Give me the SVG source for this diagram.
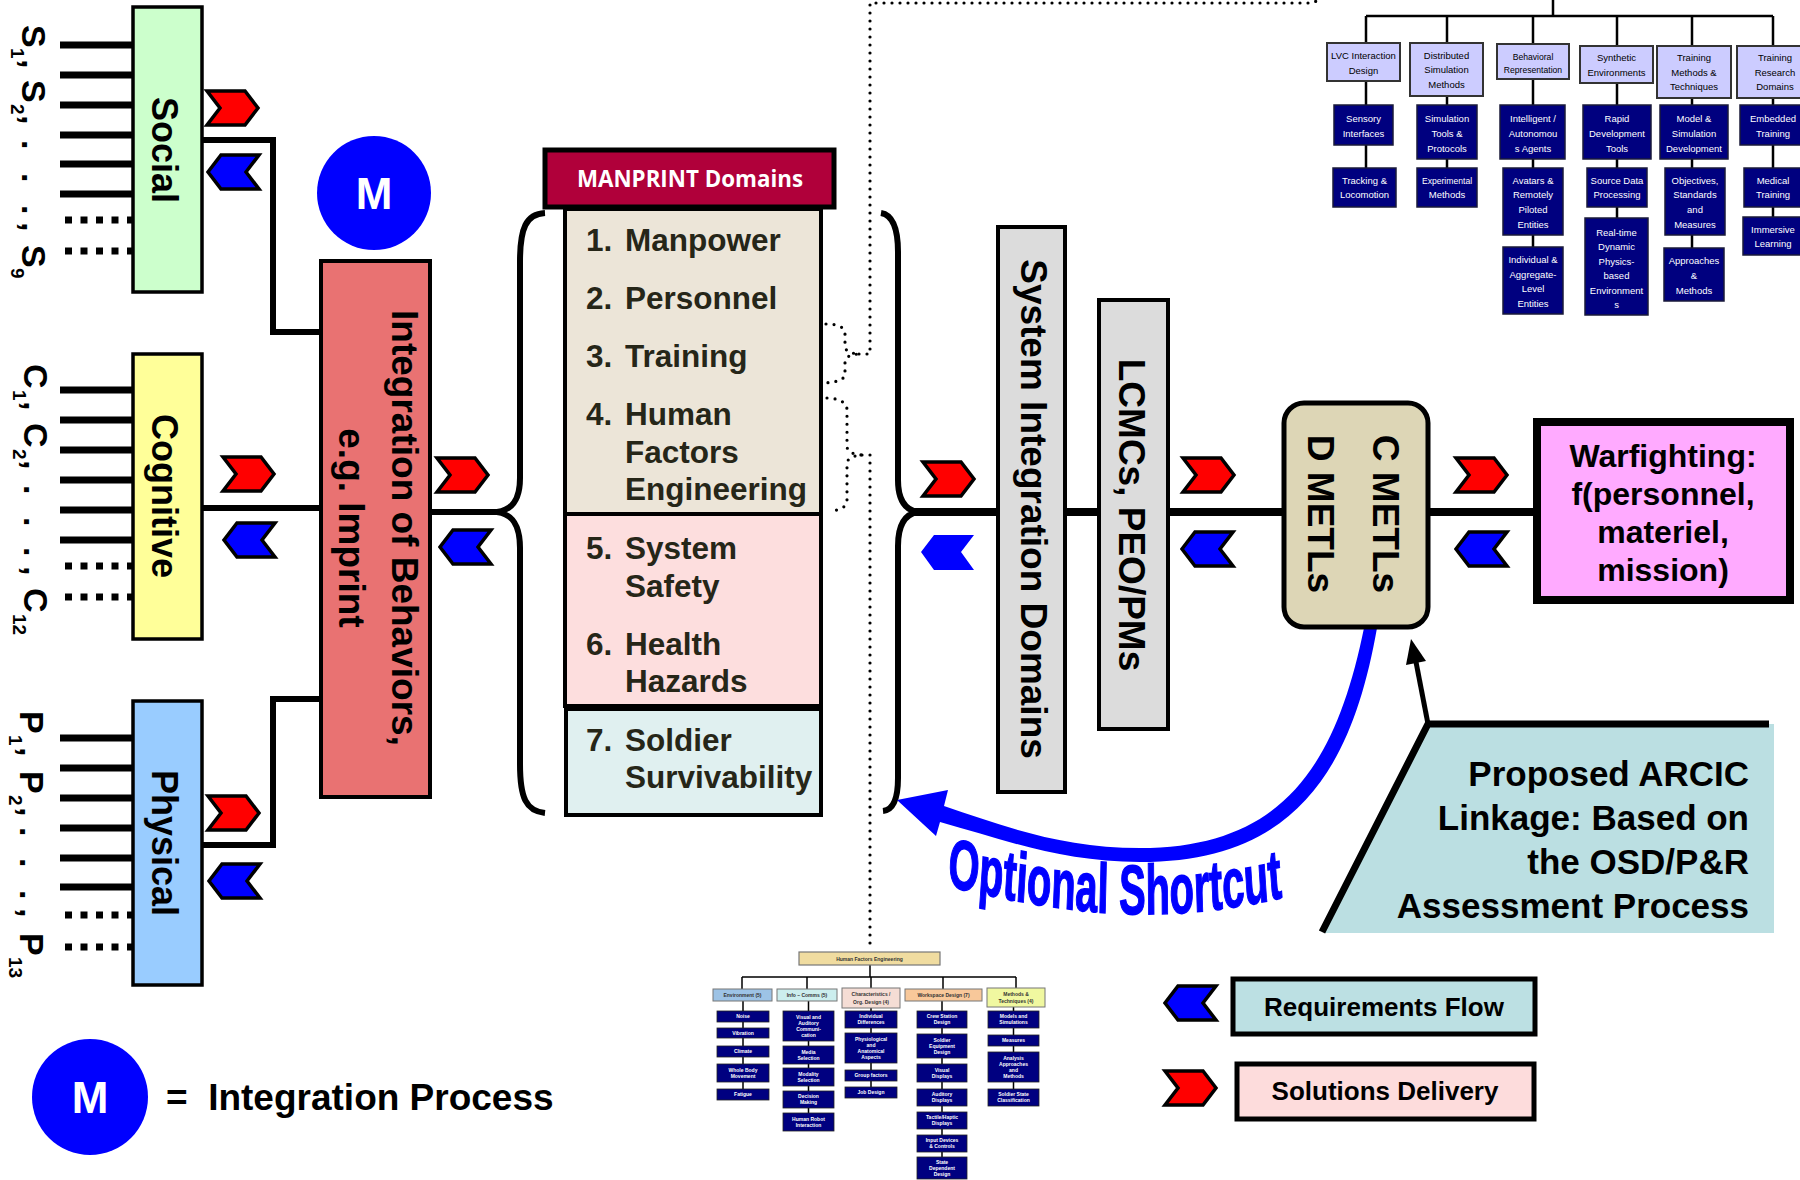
<svg xmlns="http://www.w3.org/2000/svg" width="1800" height="1180" viewBox="0 0 1800 1180">
<style>
.b{font-family:"Liberation Sans",Arial,sans-serif;font-weight:bold}
.ln{stroke:#000;fill:none}
.dot{stroke:#000;fill:none;stroke-width:3.2;stroke-linecap:round;stroke-dasharray:0 8}
.tc{font-family:"Liberation Sans Narrow","Liberation Sans",Arial,sans-serif;font-size:9.5px;text-anchor:middle}
.tw{fill:#fff}
.cat{fill:#CCCCFF;stroke:#333;stroke-width:2}
.nv{fill:#00007F;stroke:#1a1a3a;stroke-width:1.5}
.hf{font-family:"Liberation Sans",Arial,sans-serif;font-weight:bold;font-size:5px;text-anchor:middle}
.hn{fill:#000080;stroke:#222;stroke-width:0.8}
.dom{font-family:"Liberation Sans",Arial,sans-serif;font-weight:bold;font-size:31.5px;fill:#262618}
.rot{text-anchor:middle}
</style>
<defs>
<path id="cr" d="M0,0 H38 L51,17 L38,34 H0 L13,17 Z" fill="#FF0000" stroke="#000" stroke-width="3.5"/>
<path id="cb" d="M13,0 H51 L38,17 L51,34 H13 L0,17 Z" fill="#0000FF" stroke="#000" stroke-width="3.5"/>
<path id="osp" d="M 0 886 C 180 910, 360 930, 600 896"/>
</defs>

<!-- connectors -->
<g id="connectors">
<g class="ln" stroke-width="7">
<path d="M60 45 H133 M60 75 H133 M60 105 H133 M60 135 H133 M60 164 H133 M60 194 H133"/>
<path d="M60 390 H133 M60 420 H133 M60 450 H133 M60 480 H133 M60 510 H133 M60 540 H133"/>
<path d="M60 738 H133 M60 768 H133 M60 798 H133 M60 828 H133 M60 858 H133 M60 887 H133"/>
<path stroke-dasharray="7 8.5" d="M65 220 H133 M65 251 H133 M65 566 H133 M65 597 H133 M65 915 H133 M65 947 H133"/>
</g>
<g class="ln" stroke-width="6">
<path d="M202 140 H273 V332 H321"/>
<path d="M202 508 H321"/>
<path d="M202 845 H273 V699 H321"/>
<path d="M430 512 H500"/>
<path d="M545 213 C526 214, 520 228, 520 262 L520 478 C520 500, 512 510, 497 512 C512 514, 520 524, 520 548 L520 764 C520 798, 526 811, 545 813"/>
<path d="M881 213 C893 215, 898 228, 898 252 L898 480 C898 500, 905 510, 918 512 C905 514, 898 524, 898 546 L898 778 C898 800, 893 810, 883 811"/>
</g>
<path class="ln" stroke-width="8" d="M912 512 H1533"/>
<path class="dot" d="M826 324 Q845 324, 845 334 L845 346 Q845 353, 859 354 Q845 355, 845 362 L845 374 Q845 382, 823 383"/>
<path class="dot" d="M827 398 Q847 399, 847 410 L847 446 Q847 454, 862 455 Q847 456, 847 464 L847 500 Q847 510, 829 511"/>
<path class="dot" d="M859 354 L870 354 L870 3 L1312 3 L1326 -3"/>
<path class="dot" d="M862 455 L870 455 L870 946"/>
<path d="M1377 628 C1352 770, 1295 862, 1140 862 C1062 862, 1005 840, 940 822 L936 836 L897 800 L948 790 L944 806 C1003 826, 1062 848, 1140 848 C1283 848, 1336 765, 1364 628 Z" fill="#0000FF"/>
<path class="ln" stroke-width="5" d="M1428 724 L1416 662"/>
<polygon points="1411,639 1426,661 1406,665" fill="#000"/>
<g class="ln" stroke-width="2.5">
<path d="M1553 0 V16 M1366 16 H1773"/>
<path d="M1366 16 V168 M1447 16 V168 M1533 16 V247 M1617 16 V218 M1692 16 V248 M1773 16 V217"/>
</g>
<g class="ln" stroke="#222" stroke-width="1.5">
<path d="M870 965 V977 M742 977 H1016 M742 977 V989 M807 977 V989 M871 977 V988 M943 977 V989 M1016 977 V988"/>
<path d="M743 1001 V1094 M808.5 1001 V1122 M871 1008 V1092 M942 1001 V1168 M1013.5 1007 V1097"/>
</g>
</g>

<!-- chevrons -->
<g id="chevrons">
<use href="#cr" x="207" y="91"/><use href="#cb" x="208" y="155"/>
<use href="#cr" x="223" y="457"/><use href="#cb" x="224" y="523"/>
<use href="#cr" x="208" y="796"/><use href="#cb" x="209" y="864"/>
<use href="#cr" x="437" y="458"/><use href="#cb" x="440" y="530"/>
<use href="#cr" x="923" y="462"/>
<path d="M934,535 H974 L961,552 L974,570 H934 L921,552 Z" fill="#0000FF"/>
<use href="#cr" x="1183" y="458"/><use href="#cb" x="1182" y="532"/>
<use href="#cr" x="1456" y="458"/><use href="#cb" x="1456" y="532"/>
<use href="#cb" x="1165" y="986"/><use href="#cr" x="1165" y="1071"/>
</g>

<!-- left labels -->
<g id="s-label" class="b" font-size="34" transform="translate(22,0) rotate(90)">
<text><tspan x="25" y="0">S</tspan><tspan x="48" y="11" font-size="19">1</tspan><tspan x="59" y="0">,</tspan><tspan x="80" y="0">S</tspan><tspan x="104" y="11" font-size="19">2</tspan><tspan x="115" y="0">,</tspan><tspan x="140" y="0">.</tspan><tspan x="173" y="0">.</tspan><tspan x="205" y="0">.</tspan><tspan x="222" y="0">,</tspan><tspan x="245" y="0">S</tspan><tspan x="268" y="11" font-size="19">9</tspan></text>
</g>
<g id="c-label" class="b" font-size="34" transform="translate(24,0) rotate(90)">
<text><tspan x="364" y="0">C</tspan><tspan x="390" y="11" font-size="19">1</tspan><tspan x="401" y="0">,</tspan><tspan x="423" y="0">C</tspan><tspan x="449" y="11" font-size="19">2</tspan><tspan x="460" y="0">,</tspan><tspan x="485" y="0">.</tspan><tspan x="517" y="0">.</tspan><tspan x="547" y="0">.</tspan><tspan x="566" y="0">,</tspan><tspan x="588" y="0">C</tspan><tspan x="614" y="11" font-size="19">12</tspan></text>
</g>
<g id="p-label" class="b" font-size="34" transform="translate(20,0) rotate(90)">
<text><tspan x="711" y="0">P</tspan><tspan x="735" y="11" font-size="19">1</tspan><tspan x="747" y="0">,</tspan><tspan x="771" y="0">P</tspan><tspan x="795" y="11" font-size="19">2</tspan><tspan x="807" y="0">,</tspan><tspan x="827" y="0">.</tspan><tspan x="858" y="0">.</tspan><tspan x="890" y="0">.</tspan><tspan x="908" y="0">,</tspan><tspan x="933" y="0">P</tspan><tspan x="957" y="11" font-size="19">13</tspan></text>
</g>

<g id="social">
<rect x="133" y="7" width="69" height="285" fill="#CCFFCC" stroke="#000" stroke-width="3.5"/>
<text class="b rot" font-size="36" transform="translate(152,150) rotate(90)">Social</text>
</g>
<g id="cognitive">
<rect x="133" y="354" width="69" height="285" fill="#FFFF99" stroke="#000" stroke-width="3.5"/>
<text class="b rot" font-size="36" transform="translate(152,496) rotate(90)">Cognitive</text>
</g>
<g id="physical">
<rect x="133" y="701" width="69" height="284" fill="#99CCFF" stroke="#000" stroke-width="3.5"/>
<text class="b rot" font-size="36" transform="translate(152,843) rotate(90)">Physical</text>
</g>

<g id="m-circle">
<circle cx="374" cy="193" r="57" fill="#0000FF"/>
<text class="b" x="374" y="209" font-size="44" fill="#fff" text-anchor="middle">M</text>
</g>

<g id="integration">
<rect x="321" y="261" width="109" height="536" fill="#E97272" stroke="#000" stroke-width="4"/>
<text class="b rot" font-size="37" transform="translate(392,528) rotate(90)">Integration of Behaviors,</text>
<text class="b rot" font-size="37" transform="translate(339,528) rotate(90)">e.g. Imprint</text>
</g>

<g id="manprint">
<rect x="545" y="150" width="289" height="57" fill="#B0003A" stroke="#000" stroke-width="5"/>
<text x="690" y="187" font-family="'Open Sans','Liberation Sans',sans-serif" font-weight="bold" font-size="23" fill="#fff" text-anchor="middle" textLength="226" lengthAdjust="spacingAndGlyphs">MANPRINT Domains</text>
</g>

<g id="domains">
<rect x="565" y="209" width="256" height="305" fill="#ECE5D8" stroke="#000" stroke-width="4"/>
<rect x="565" y="514" width="256" height="192" fill="#FDDEDE" stroke="#000" stroke-width="4"/>
<rect x="566" y="709" width="255" height="106" fill="#E0F0F0" stroke="#000" stroke-width="4"/>
<g class="dom">
<text x="586" y="251">1.</text><text x="625" y="251">Manpower</text>
<text x="586" y="309">2.</text><text x="625" y="309">Personnel</text>
<text x="586" y="367">3.</text><text x="625" y="367">Training</text>
<text x="586" y="425">4.</text><text x="625" y="425">Human</text>
<text x="625" y="463">Factors</text>
<text x="625" y="500">Engineering</text>
<text x="586" y="559">5.</text><text x="625" y="559">System</text>
<text x="625" y="597">Safety</text>
<text x="586" y="655">6.</text><text x="625" y="655">Health</text>
<text x="625" y="692">Hazards</text>
<text x="586" y="751">7.</text><text x="625" y="751">Soldier</text>
<text x="625" y="788">Survivability</text>
</g>
</g>

<g id="system-integration">
<rect x="998" y="227" width="67" height="565" fill="#DCDCDC" stroke="#000" stroke-width="4"/>
<text class="b rot" font-size="37" transform="translate(1021,509) rotate(90)">System Integration Domains</text>
</g>
<g id="lcmc">
<rect x="1099" y="300" width="69" height="429" fill="#DCDCDC" stroke="#000" stroke-width="4"/>
<text class="b rot" font-size="37" transform="translate(1119,515) rotate(90)">LCMCs, PEO/PMs</text>
</g>
<g id="metls">
<rect x="1284" y="403" width="144" height="224" rx="20" fill="#DDD6B6" stroke="#000" stroke-width="5"/>
<text class="b rot" font-size="37" transform="translate(1373,514) rotate(90)">C METLs</text>
<text class="b rot" font-size="37" transform="translate(1308,514) rotate(90)">D METLs</text>
</g>
<g id="warfighting">
<rect x="1537" y="422" width="253" height="178" fill="#FFAAFF" stroke="#000" stroke-width="8"/>
<g class="b" font-size="32" text-anchor="middle">
<text x="1663" y="467">Warfighting:</text>
<text x="1663" y="505">f(personnel,</text>
<text x="1663" y="543">materiel,</text>
<text x="1663" y="581">mission)</text>
</g>
</g>

<g id="optional-shortcut">
<g transform="translate(947,0) scale(0.57,1)">
<text class="b" font-size="70" fill="#0000FF" stroke="#0000FF" stroke-width="1.5"><textPath href="#osp">Optional Shortcut</textPath></text>
</g>
</g>

<g id="proposed">
<polygon points="1428,724 1774,724 1774,933 1324,933" fill="#BBDFE2"/>
<path class="ln" stroke-width="7" d="M1322 932 L1428 724 L1769 724"/>
<g class="b" font-size="35" text-anchor="end">
<text x="1749" y="786">Proposed ARCIC</text>
<text x="1749" y="830">Linkage: Based on</text>
<text x="1749" y="874">the OSD/P&amp;R</text>
<text x="1749" y="918">Assessment Process</text>
</g>
</g>

<g id="legend-req">
<rect x="1233" y="979" width="302" height="55" fill="#BCE0E3" stroke="#000" stroke-width="5"/>
<text class="b" x="1384" y="1016" font-size="26" text-anchor="middle">Requirements Flow</text>
</g>
<g id="legend-sol">
<rect x="1237" y="1064" width="297" height="55" fill="#FDDCDC" stroke="#000" stroke-width="5"/>
<text class="b" x="1385" y="1100" font-size="26" text-anchor="middle">Solutions Delivery</text>
</g>
<g id="legend-m">
<circle cx="90" cy="1097" r="58" fill="#0000FF"/>
<text class="b" x="90" y="1113" font-size="44" fill="#fff" text-anchor="middle">M</text>
<text class="b" x="166" y="1110" font-size="37" xml:space="preserve">=  Integration Process</text>
</g>

<!-- top-right training chart -->
<g id="training-chart">
<rect class="cat" x="1327" y="43" width="73" height="38"/>
<rect class="cat" x="1410" y="43" width="73" height="53"/>
<rect class="cat" x="1497" y="44" width="72" height="35"/>
<rect class="cat" x="1580" y="46" width="73" height="37"/>
<rect class="cat" x="1657" y="46" width="74" height="52"/>
<rect class="cat" x="1737" y="46" width="70" height="52"/>
<g class="tc">
<text x="1363.5" y="59">LVC Interaction</text><text x="1363.5" y="74">Design</text>
<text x="1446.5" y="59">Distributed</text><text x="1446.5" y="73">Simulation</text><text x="1446.5" y="88">Methods</text>
<text x="1533" y="59.5" font-size="8.6">Behavioral</text><text x="1533" y="72.5" font-size="8.6">Representation</text>
<text x="1616.5" y="61">Synthetic</text><text x="1616.5" y="76">Environments</text>
<text x="1694" y="61">Training</text><text x="1694" y="75.5">Methods &amp;</text><text x="1694" y="90">Techniques</text>
<text x="1775" y="61">Training</text><text x="1775" y="75.5">Research</text><text x="1775" y="90">Domains</text>
</g>
<rect class="nv" x="1334" y="105" width="59" height="40"/>
<rect class="nv" x="1333" y="168" width="63" height="39"/>
<rect class="nv" x="1417" y="105" width="60" height="54"/>
<rect class="nv" x="1417" y="168" width="60" height="39"/>
<rect class="nv" x="1500" y="105" width="65" height="54"/>
<rect class="nv" x="1503" y="168" width="60" height="67"/>
<rect class="nv" x="1503" y="247" width="60" height="67"/>
<rect class="nv" x="1583" y="105" width="68" height="54"/>
<rect class="nv" x="1587" y="168" width="60" height="39"/>
<rect class="nv" x="1585" y="218" width="63" height="97"/>
<rect class="nv" x="1660" y="105" width="68" height="54"/>
<rect class="nv" x="1665" y="168" width="60" height="67"/>
<rect class="nv" x="1664" y="248" width="60" height="53"/>
<rect class="nv" x="1740" y="105" width="65" height="40"/>
<rect class="nv" x="1744" y="168" width="60" height="39"/>
<rect class="nv" x="1743" y="217" width="62" height="38"/>
<g class="tc tw">
<text x="1363.5" y="122">Sensory</text><text x="1363.5" y="137">Interfaces</text>
<text x="1364.5" y="184">Tracking &amp;</text><text x="1364.5" y="198">Locomotion</text>
<text x="1447" y="122">Simulation</text><text x="1447" y="137">Tools &amp;</text><text x="1447" y="152">Protocols</text>
<text x="1447" y="184" font-size="8.6">Experimental</text><text x="1447" y="198">Methods</text>
<text x="1533" y="122">Intelligent /</text><text x="1533" y="137">Autonomou</text><text x="1533" y="152">s Agents</text>
<text x="1533" y="184">Avatars &amp;</text><text x="1533" y="198">Remotely</text><text x="1533" y="213">Piloted</text><text x="1533" y="228">Entities</text>
<text x="1533" y="263">Individual &amp;</text><text x="1533" y="278">Aggregate-</text><text x="1533" y="292">Level</text><text x="1533" y="307">Entities</text>
<text x="1617" y="122">Rapid</text><text x="1617" y="137">Development</text><text x="1617" y="152">Tools</text>
<text x="1617" y="184">Source Data</text><text x="1617" y="198">Processing</text>
<text x="1616.5" y="236">Real-time</text><text x="1616.5" y="250">Dynamic</text><text x="1616.5" y="265">Physics-</text><text x="1616.5" y="279">based</text><text x="1616.5" y="294">Environment</text><text x="1616.5" y="308">s</text>
<text x="1694" y="122">Model &amp;</text><text x="1694" y="137">Simulation</text><text x="1694" y="152">Development</text>
<text x="1695" y="184">Objectives,</text><text x="1695" y="198">Standards</text><text x="1695" y="213">and</text><text x="1695" y="228">Measures</text>
<text x="1694" y="264">Approaches</text><text x="1694" y="279">&amp;</text><text x="1694" y="294">Methods</text>
<text x="1773" y="122">Embedded</text><text x="1773" y="137">Training</text>
<text x="1773" y="184">Medical</text><text x="1773" y="198">Training</text>
<text x="1773" y="233">Immersive</text><text x="1773" y="247">Learning</text>
</g>
</g>

<!-- HFE chart -->
<g id="hfe-chart">
<rect x="799" y="952" width="141" height="13" fill="#F0DCA0" stroke="#777" stroke-width="1.2"/>
<text class="hf" x="869.5" y="961" font-size="7" fill="#333">Human Factors Engineering</text>
<rect x="713" y="989" width="59" height="12" fill="#9DC3E6" stroke="#777" stroke-width="1"/>
<rect x="777" y="989" width="60" height="12" fill="#CCEEEE" stroke="#777" stroke-width="1"/>
<rect x="842" y="988" width="58" height="20" fill="#F5DDD5" stroke="#777" stroke-width="1"/>
<rect x="905" y="989" width="77" height="12" fill="#F8C89A" stroke="#777" stroke-width="1"/>
<rect x="987" y="988" width="58" height="19" fill="#F0F8A0" stroke="#777" stroke-width="1"/>
<g class="hf" fill="#333">
<text x="742.5" y="997">Environment (5)</text>
<text x="807" y="997">Info – Comms (5)</text>
<text x="871" y="996">Characteristics /</text><text x="871" y="1003.5">Org. Design (4)</text>
<text x="943.5" y="997">Workspace Design (7)</text>
<text x="1016" y="996">Methods &amp;</text><text x="1016" y="1003">Techniques (4)</text>
</g>
<rect class="hn" x="717" y="1011" width="52" height="11"/>
<rect class="hn" x="717" y="1028" width="52" height="10"/>
<rect class="hn" x="717" y="1046" width="52" height="11"/>
<rect class="hn" x="717" y="1064" width="52" height="18"/>
<rect class="hn" x="717" y="1089" width="52" height="11"/>
<rect class="hn" x="783" y="1011" width="51" height="30"/>
<rect class="hn" x="783" y="1046" width="51" height="18"/>
<rect class="hn" x="783" y="1068" width="51" height="18"/>
<rect class="hn" x="783" y="1091" width="51" height="17"/>
<rect class="hn" x="783" y="1113" width="51" height="18"/>
<rect class="hn" x="845" y="1011" width="52" height="17"/>
<rect class="hn" x="845" y="1033" width="52" height="30"/>
<rect class="hn" x="845" y="1070" width="52" height="11"/>
<rect class="hn" x="845" y="1087" width="52" height="11"/>
<rect class="hn" x="917" y="1011" width="50" height="17"/>
<rect class="hn" x="917" y="1034" width="50" height="24"/>
<rect class="hn" x="917" y="1064" width="50" height="18"/>
<rect class="hn" x="917" y="1089" width="50" height="17"/>
<rect class="hn" x="917" y="1112" width="50" height="17"/>
<rect class="hn" x="917" y="1135" width="50" height="17"/>
<rect class="hn" x="917" y="1157" width="50" height="22"/>
<rect class="hn" x="988" y="1011" width="51" height="17"/>
<rect class="hn" x="988" y="1035" width="51" height="11"/>
<rect class="hn" x="988" y="1052" width="51" height="30"/>
<rect class="hn" x="988" y="1089" width="51" height="17"/>
<g class="hf tw">
<text x="743" y="1018.3">Noise</text>
<text x="743" y="1034.8">Vibration</text>
<text x="743" y="1053.3">Climate</text>
<text x="743" y="1071.7">Whole Body</text><text x="743" y="1077.9">Movement</text>
<text x="743" y="1096.3">Fatigue</text>
<text x="808.5" y="1018.5">Visual and</text><text x="808.5" y="1024.7">Auditory</text><text x="808.5" y="1030.9">Communi-</text><text x="808.5" y="1037.1">cation</text>
<text x="808.5" y="1053.7">Media</text><text x="808.5" y="1059.9">Selection</text>
<text x="808.5" y="1075.7">Modality</text><text x="808.5" y="1081.9">Selection</text>
<text x="808.5" y="1098.2">Decision</text><text x="808.5" y="1104.4">Making</text>
<text x="808.5" y="1120.7">Human Robot</text><text x="808.5" y="1126.9">Interaction</text>
<text x="871" y="1018.2">Individual</text><text x="871" y="1024.4">Differences</text>
<text x="871" y="1040.5">Physiological</text><text x="871" y="1046.7">and</text><text x="871" y="1052.9">Anatomical</text><text x="871" y="1059.1">Aspects</text>
<text x="871" y="1077.3">Group factors</text>
<text x="871" y="1094.3">Job Design</text>
<text x="942" y="1018.2">Crew Station</text><text x="942" y="1024.4">Design</text>
<text x="942" y="1041.6">Soldier</text><text x="942" y="1047.8">Equipment</text><text x="942" y="1054">Design</text>
<text x="942" y="1071.7">Visual</text><text x="942" y="1077.9">Displays</text>
<text x="942" y="1096.2">Auditory</text><text x="942" y="1102.4">Displays</text>
<text x="942" y="1119.2">Tactile/Haptic</text><text x="942" y="1125.4">Displays</text>
<text x="942" y="1142.2">Input Devices</text><text x="942" y="1148.4">&amp; Controls</text>
<text x="942" y="1163.6">State</text><text x="942" y="1169.8">Dependent</text><text x="942" y="1176">Design</text>
<text x="1013.5" y="1018.2">Models and</text><text x="1013.5" y="1024.4">Simulations</text>
<text x="1013.5" y="1042.3">Measures</text>
<text x="1013.5" y="1059.5">Analysis</text><text x="1013.5" y="1065.7">Approaches</text><text x="1013.5" y="1071.9">and</text><text x="1013.5" y="1078.1">Methods</text>
<text x="1013.5" y="1096.2">Soldier State</text><text x="1013.5" y="1102.4">Classification</text>
</g>
</g>
</svg>
